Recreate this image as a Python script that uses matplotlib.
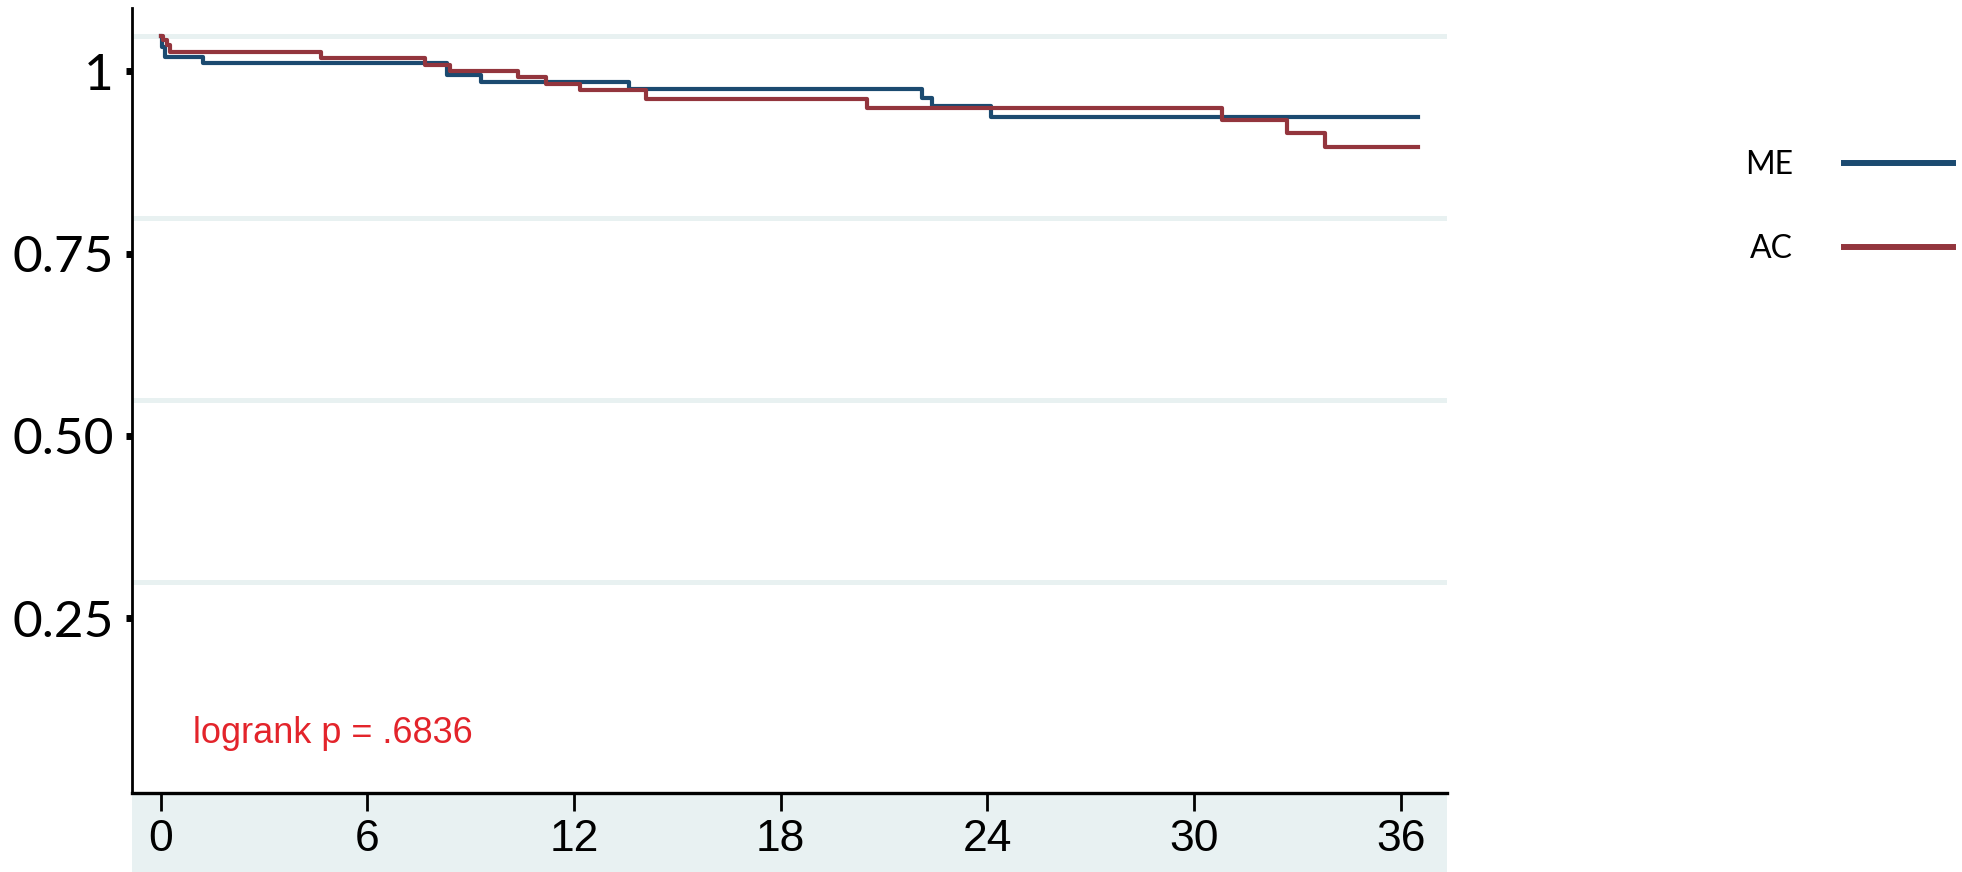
import matplotlib
matplotlib.use("Agg")
import matplotlib.pyplot as plt
from matplotlib.patches import Rectangle

# Kaplan-Meier step values (months, survival)
me_time = [0, 0.05, 0.12, 1.24, 8.3, 9.3, 13.6, 22.1, 22.4, 24.1, 36.5]
me_surv = [1.0, 0.985, 0.971, 0.962, 0.946, 0.936, 0.927, 0.914, 0.903, 0.888, 0.888]

ac_time = [0, 0.08, 0.19, 0.27, 4.65, 7.68, 8.4, 10.37, 11.2, 12.18, 14.1,
           20.5, 30.8, 32.7, 33.8, 36.5]
ac_surv = [1.0, 0.994, 0.987, 0.978, 0.969, 0.960, 0.952, 0.943, 0.934, 0.925,
           0.913, 0.901, 0.885, 0.866, 0.848, 0.848]

group_labels = ["ME", "AC"]
x_ticks = [0, 6, 12, 18, 24, 30, 36]
y_grid = [1.0, 0.75, 0.50, 0.25]
y_tick_labels = ["1", "0.75", "0.50", "0.25"]
y_label_shift = 0.049  # tick marks sit a bit below the grid lines in the original
pvalue_text = "logrank p = .6836"

blue = "#1b4a70"
red = "#93353d"
grid_col = "#e8f1f1"
band_col = "#e8f1f2"

fig = plt.figure(figsize=(19.62, 8.72), dpi=100)
ax = fig.add_axes([0.0671, 0.0906, 0.6703, 0.9002])

# shaded band under the x axis
fig.add_artist(Rectangle((0.0671, 0.0), 0.6703, 0.0906, transform=fig.transFigure,
                         facecolor=band_col, edgecolor="none", zorder=0))

for g in y_grid:
    ax.axhline(g, color=grid_col, lw=3.6, zorder=1)

ax.step(me_time, me_surv, where="post", color=blue, lw=3.0, label=group_labels[0], zorder=3)
ax.step(ac_time, ac_surv, where="post", color=red, lw=3.0, label=group_labels[1], zorder=4)

ax.set_xlim(-0.842, 37.34)
ax.set_ylim(-0.039, 1.038)

ax.spines["top"].set_visible(False)
ax.spines["right"].set_visible(False)
ax.spines["left"].set_linewidth(2.0)
ax.spines["bottom"].set_linewidth(2.4)

ax.set_xticks(x_ticks)
ax.set_xticklabels([str(t) for t in x_ticks], fontfamily="Liberation Sans", fontsize=32)
ax.tick_params(axis="x", length=13, width=2.0, pad=6)

ax.set_yticks([g - y_label_shift for g in y_grid])
ax.set_yticklabels(y_tick_labels, fontfamily="Lato", fontsize=37)
ax.tick_params(axis="y", length=4, width=5, pad=9)

fig.text(0.0984, 0.148, pvalue_text, color="#e3242b", fontsize=26,
         fontfamily="Liberation Sans", va="baseline", ha="left")

leg = ax.legend(loc="upper left", bbox_to_anchor=(1745 / 1962, 1 - 150 / 872),
                bbox_transform=fig.transFigure, frameon=False, markerfirst=False,
                prop={"family": "Lato", "size": 23}, handlelength=3.4,
                handletextpad=1.6, labelspacing=1.70, borderpad=0, borderaxespad=0)
for line in leg.get_lines():
    line.set_linewidth(4.3)

fig.savefig("out.png", dpi=100)
